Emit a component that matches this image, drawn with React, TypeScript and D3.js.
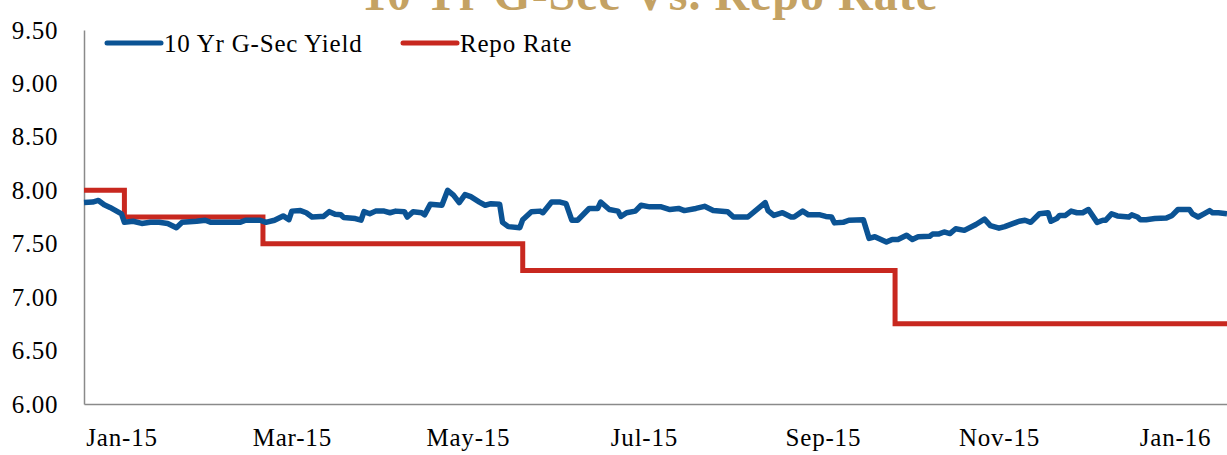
import React, { useEffect, useRef } from "react";
import * as d3 from "d3";

// 10 Yr G-Sec yield
const yieldDates = [
  "2015-01-02", "2015-01-05", "2015-01-07", "2015-01-09", "2015-01-11", "2015-01-13", "2015-01-15", "2015-01-16",
  "2015-01-19", "2015-01-22", "2015-01-25", "2015-01-28", "2015-01-31", "2015-02-03", "2015-02-05", "2015-02-10",
  "2015-02-13", "2015-02-15", "2015-02-20", "2015-02-25", "2015-02-27", "2015-03-04", "2015-03-06", "2015-03-09",
  "2015-03-12", "2015-03-14", "2015-03-15", "2015-03-18", "2015-03-20", "2015-03-22", "2015-03-25", "2015-03-26",
  "2015-03-28", "2015-03-30", "2015-04-01", "2015-04-02", "2015-04-06", "2015-04-08", "2015-04-09", "2015-04-11",
  "2015-04-13", "2015-04-16", "2015-04-18", "2015-04-20", "2015-04-23", "2015-04-24", "2015-04-26", "2015-04-29",
  "2015-04-30", "2015-05-02", "2015-05-06", "2015-05-08", "2015-05-10", "2015-05-12", "2015-05-14", "2015-05-16",
  "2015-05-19", "2015-05-21", "2015-05-23", "2015-05-26", "2015-05-27", "2015-05-29", "2015-06-02", "2015-06-03",
  "2015-06-06", "2015-06-09", "2015-06-10", "2015-06-13", "2015-06-16", "2015-06-18", "2015-06-20", "2015-06-22",
  "2015-06-26", "2015-06-29", "2015-06-30", "2015-07-03", "2015-07-06", "2015-07-07", "2015-07-09", "2015-07-12",
  "2015-07-14", "2015-07-17", "2015-07-21", "2015-07-24", "2015-07-27", "2015-07-29", "2015-08-02", "2015-08-05",
  "2015-08-08", "2015-08-13", "2015-08-15", "2015-08-20", "2015-08-26", "2015-08-27", "2015-08-29", "2015-09-01",
  "2015-09-04", "2015-09-05", "2015-09-08", "2015-09-10", "2015-09-14", "2015-09-16", "2015-09-18", "2015-09-19",
  "2015-09-22", "2015-09-24", "2015-09-29", "2015-10-01", "2015-10-03", "2015-10-07", "2015-10-09", "2015-10-11",
  "2015-10-14", "2015-10-16", "2015-10-18", "2015-10-22", "2015-10-23", "2015-10-25", "2015-10-27", "2015-10-29",
  "2015-10-31", "2015-11-03", "2015-11-07", "2015-11-10", "2015-11-12", "2015-11-15", "2015-11-17", "2015-11-20",
  "2015-11-22", "2015-11-24", "2015-11-26", "2015-11-29", "2015-12-02", "2015-12-03", "2015-12-05", "2015-12-06",
  "2015-12-08", "2015-12-10", "2015-12-12", "2015-12-14", "2015-12-16", "2015-12-19", "2015-12-21", "2015-12-22",
  "2015-12-24", "2015-12-26", "2015-12-30", "2015-12-31", "2016-01-02", "2016-01-03", "2016-01-05", "2016-01-08",
  "2016-01-12", "2016-01-14", "2016-01-16", "2016-01-20", "2016-01-21", "2016-01-23", "2016-01-25", "2016-01-27",
  "2016-01-28", "2016-01-30", "2016-02-02",
];
const yieldValues = [
  7.885, 7.89, 7.905, 7.865, 7.84, 7.81, 7.78, 7.7,
  7.71, 7.69, 7.7, 7.7, 7.69, 7.65, 7.7, 7.71,
  7.72, 7.7, 7.7, 7.7, 7.72, 7.72, 7.7, 7.72,
  7.76, 7.725, 7.805, 7.81, 7.79, 7.75, 7.755, 7.755,
  7.8, 7.775, 7.77, 7.745, 7.735, 7.72, 7.8, 7.78,
  7.805, 7.805, 7.79, 7.805, 7.8, 7.75, 7.8, 7.79,
  7.77, 7.87, 7.86, 8.0, 7.955, 7.885, 7.96, 7.94,
  7.89, 7.86, 7.875, 7.87, 7.7, 7.66, 7.65, 7.725,
  7.8, 7.805, 7.79, 7.89, 7.89, 7.875, 7.72, 7.72,
  7.83, 7.83, 7.89, 7.82, 7.805, 7.755, 7.79, 7.805,
  7.86, 7.845, 7.845, 7.82, 7.83, 7.81, 7.83, 7.85,
  7.81, 7.8, 7.75, 7.75, 7.885, 7.81, 7.765, 7.79,
  7.75, 7.75, 7.805, 7.77, 7.77, 7.755, 7.75, 7.695,
  7.7, 7.72, 7.725, 7.55, 7.565, 7.515, 7.54, 7.54,
  7.58, 7.54, 7.565, 7.57, 7.59, 7.59, 7.61, 7.595,
  7.64, 7.625, 7.68, 7.73, 7.67, 7.645, 7.66, 7.69,
  7.71, 7.72, 7.7, 7.78, 7.79, 7.71, 7.735, 7.765,
  7.765, 7.805, 7.79, 7.79, 7.82, 7.7, 7.72, 7.72,
  7.78, 7.76, 7.75, 7.77, 7.75, 7.725, 7.725, 7.735,
  7.74, 7.765, 7.82, 7.82, 7.78, 7.75, 7.78, 7.81,
  7.79, 7.79, 7.78,
];

// repo rate steps
const repoDates = ["2015-01-02", "2015-01-16", "2015-03-05", "2015-06-03", "2015-10-10", "2016-02-02"];
const repoValues = [8.0, 7.75, 7.5, 7.25, 6.75, 6.75];

const yTicks = [6.0, 6.5, 7.0, 7.5, 8.0, 8.5, 9.0, 9.5];
const xTickDates = ["2015-01-15", "2015-03-15", "2015-05-15", "2015-07-15", "2015-09-15", "2015-11-15", "2016-01-15"];
const xTickLabels = ["Jan-15", "Mar-15", "May-15", "Jul-15", "Sep-15", "Nov-15", "Jan-16"];

const seriesNames = ["10 Yr G-Sec Yield", "Repo Rate"];
const seriesColors = ["#0b5394", "#c8281f"];

export default function App() {
  const ref = useRef<SVGSVGElement>(null);

  useEffect(() => {
    var width = 1227;
    var left = 84;
    var font = "'Liberation Serif', 'DejaVu Serif', serif";
    var parse = d3.utcParse("%Y-%m-%d");

    var svg = d3.select(ref.current);
    svg.selectAll("*").remove();

    var x = d3
      .scaleUtc()
      .domain([parse("2015-01-02")!, parse("2016-02-02")!])
      .range([left, width]);

    var y = d3.scaleLinear().domain([6, 9.5]).range([404, 30]);

    // title, cut off at the top like in the original
    svg
      .append("text")
      .attr("x", 650)
      .attr("y", 10)
      .attr("text-anchor", "middle")
      .attr("font-family", font)
      .attr("font-weight", "bold")
      .attr("font-size", 48)
      .attr("letter-spacing", 1)
      .attr("fill", "#c4a263")
      .text("10 Yr G-Sec Vs. Repo Rate");

    // y axis
    var yAxis = svg
      .append("g")
      .attr("transform", "translate(" + left + ",0)")
      .call(
        d3
          .axisLeft(y)
          .tickValues(yTicks)
          .tickFormat(d3.format(".2f") as any)
          .tickSize(0)
          .tickPadding(26)
      );
    yAxis.select(".domain").attr("stroke", "#8a8a8a").attr("stroke-width", 1.5);
    yAxis
      .selectAll(".tick text")
      .attr("font-family", font)
      .attr("font-size", 25)
      .attr("letter-spacing", 0.6)
      .attr("fill", "#000");

    // x axis
    var xAxis = svg
      .append("g")
      .attr("transform", "translate(0," + y(6) + ")")
      .call(
        d3
          .axisBottom(x)
          .tickValues(xTickDates.map((d) => parse(d)!))
          .tickFormat((d, i) => xTickLabels[i])
          .tickSize(0)
          .tickPadding(24)
      );
    xAxis.select(".domain").attr("stroke", "#8a8a8a").attr("stroke-width", 1.5);
    xAxis
      .selectAll(".tick text")
      .attr("font-family", font)
      .attr("font-size", 25)
      .attr("letter-spacing", 0.8)
      .attr("fill", "#000");

    var yieldData = yieldDates.map((d, i) => ({ date: parse(d)!, value: yieldValues[i] }));
    var repoData = repoDates.map((d, i) => ({ date: parse(d)!, value: repoValues[i] }));

    var line = d3
      .line<{ date: Date; value: number }>()
      .x((d) => x(d.date))
      .y((d) => y(d.value));

    svg
      .append("path")
      .datum(repoData)
      .attr("fill", "none")
      .attr("stroke", seriesColors[1])
      .attr("stroke-width", 5)
      .attr("d", line.curve(d3.curveStepAfter));

    svg
      .append("path")
      .datum(yieldData)
      .attr("fill", "none")
      .attr("stroke", seriesColors[0])
      .attr("stroke-width", 5.5)
      .attr("stroke-linejoin", "round")
      .attr("d", line.curve(d3.curveLinear));

    // legend
    var legendX = [107, 403];
    var legend = svg.append("g");
    seriesNames.forEach((name, i) => {
      legend
        .append("line")
        .attr("x1", legendX[i])
        .attr("x2", legendX[i] + 54)
        .attr("y1", 43)
        .attr("y2", 43)
        .attr("stroke", seriesColors[i])
        .attr("stroke-width", 5)
        .attr("stroke-linecap", "round");
      legend
        .append("text")
        .attr("x", legendX[i] + 57)
        .attr("y", 43)
        .attr("dy", "0.35em")
        .attr("font-family", font)
        .attr("font-size", 25)
        .attr("letter-spacing", 0.8)
        .text(name);
    });
  }, []);

  return (
    <svg
      ref={ref}
      width={1227}
      height={455}
      style={{ position: "absolute", left: 0, top: 0, background: "#fff" }}
    />
  );
}
